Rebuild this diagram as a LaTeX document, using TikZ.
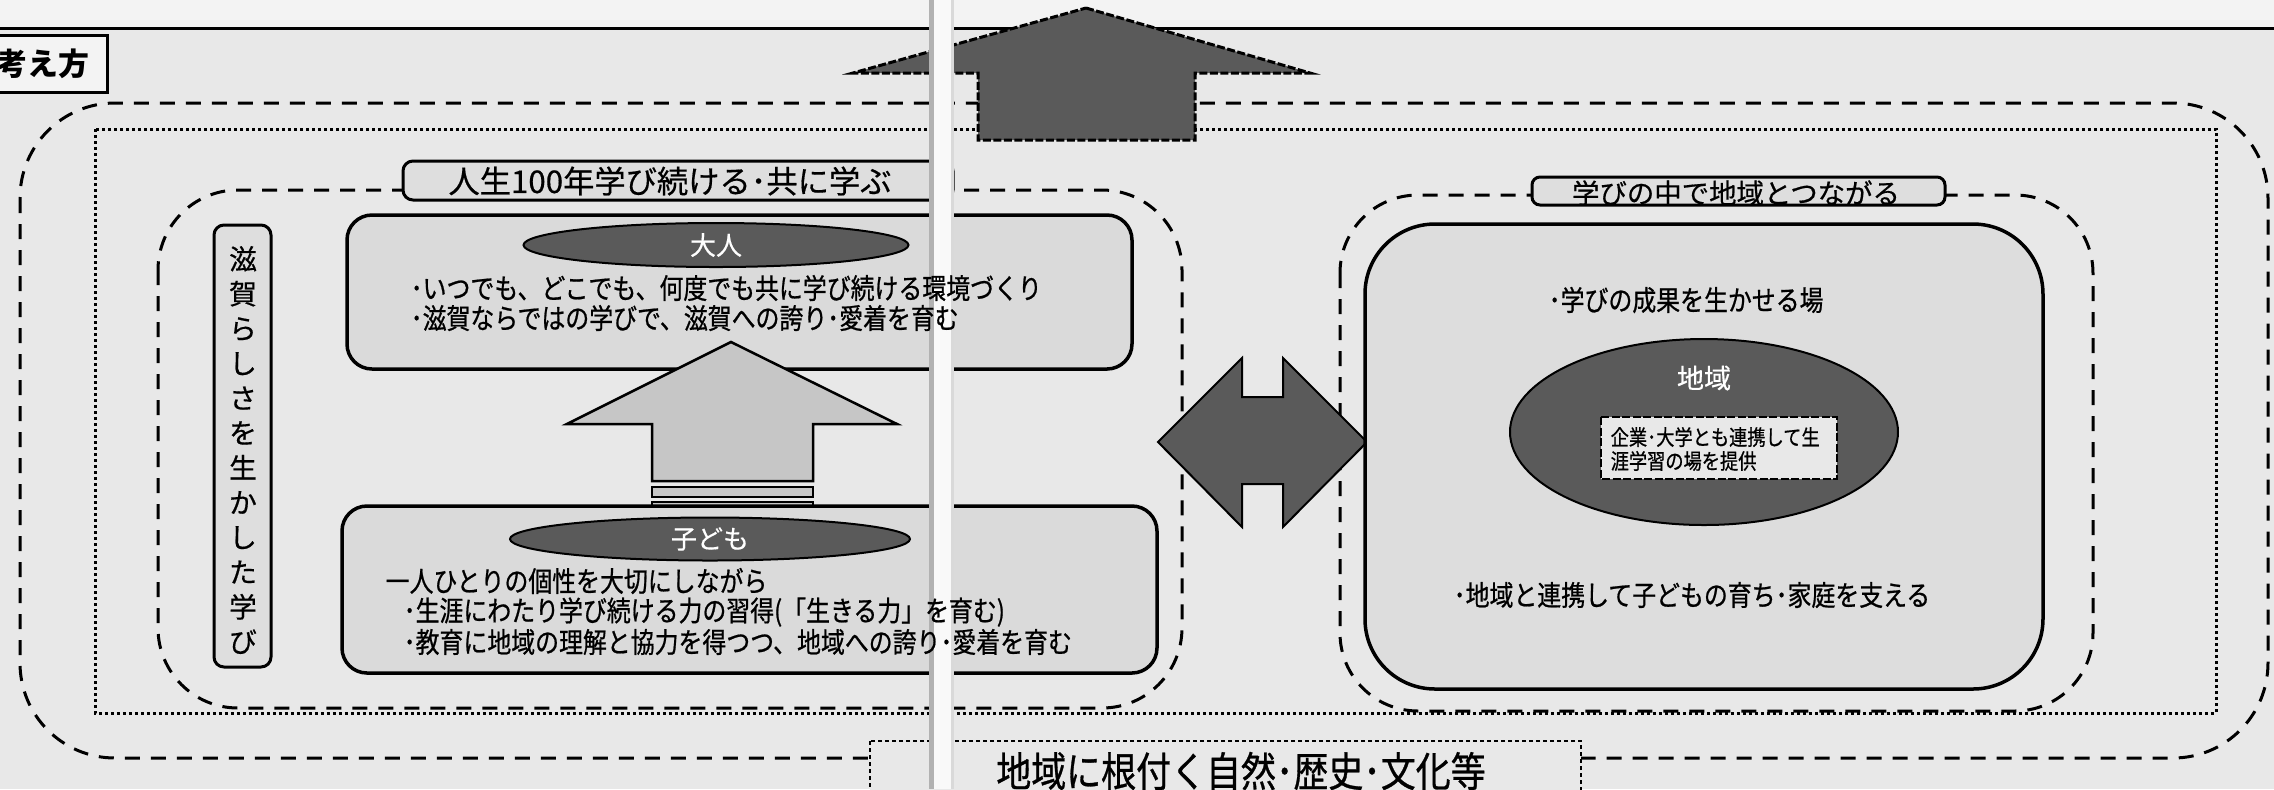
\documentclass[tikz,border=0pt]{standalone}
\usepackage{fontspec}
\newfontfamily\jpn[FakeStretch=0.85, FakeBold=0.7]{Noto Sans CJK JP}
\newfontfamily\jpw[FakeBold=0.5]{Noto Sans CJK JP}
\newfontfamily\jpt{Noto Sans CJK JP}
\usetikzlibrary{shapes.geometric}
\newcommand{\myfs}[2]{\fontsize{#1}{#2}\selectfont}
\definecolor{bgc}{HTML}{E8E8E8}
\definecolor{topc}{HTML}{F3F3F3}
\definecolor{boxc}{HTML}{DADADA}
\definecolor{labc}{HTML}{DEDEDE}
\definecolor{darkc}{HTML}{5A5A5A}
\definecolor{arrc}{HTML}{C6C6C6}
\definecolor{foldc}{HTML}{F9F9F9}
\tikzset{
  bigdash/.style={line width=0.3mm, dash pattern=on 1.5mm off 1.1mm},
  dotline/.style={line width=0.3mm, dash pattern=on 0.3mm off 0.3mm},
  finedash/.style={line width=0.3mm, dash pattern=on 0.8mm off 0.25mm},
  thindash/.style={line width=0.15mm, dash pattern=on 0.4mm off 0.3mm},
  solidbox/.style={draw=black, line width=0.35mm, fill=boxc},
  labelbox/.style={draw=black, line width=0.3mm, fill=labc, rounded corners=1mm},
  bodytxt/.style={inner sep=0pt, anchor=west, font=\jpn\myfs{8.0pt}{9pt}},
  ovaltxt/.style={ellipse, draw=black, line width=0.2mm, fill=darkc, inner sep=0pt, text=white, font=\jpw\myfs{7.4pt}{8pt}},
}
\begin{document}
\begin{tikzpicture}[x=0.1mm,y=-0.1mm]
\useasboundingbox (0,0) rectangle (2274,789);
\clip (0,0) rectangle (2274,789);
% background
\fill[bgc] (0,0) rectangle (2274,789);
\fill[topc] (0,0) rectangle (2274,28);
\draw[line width=0.3mm] (0,28) -- (2274,28);
% title box
\draw[line width=0.3mm, fill=topc] (-5,35) rectangle (107,92);
\node[inner sep=0pt, font=\jpt\bfseries\myfs{8.8pt}{10pt}] (title) at (43,64) {考え方};
% outer dashed frame and dotted frame
\draw[bigdash, rounded corners=9.5mm] (20,103) rectangle (2268,758);
\draw[dotline] (95,129) rectangle (2216,713);
% section frames
\draw[bigdash, rounded corners=8mm] (158,190) rectangle (1182,708);
\draw[bigdash, rounded corners=7.8mm] (1340,195) rectangle (2093,711);
% section labels
\draw[labelbox] (403,161) rectangle (953,200);
\draw[labelbox, rounded corners=0.8mm] (1532,177) rectangle (1945,205);
\node[inner sep=0pt, font=\jpw\myfs{7.8pt}{9pt}] (lab2) at (1736,193) {学びの中で地域とつながる};
% vertical box
\draw[labelbox] (214,225) rectangle (271,667);
\node[inner sep=0pt, align=center, font=\jpw\myfs{7.9pt}{9.9pt}] (vt) at (243,450) {滋\\賀\\ら\\し\\さ\\を\\生\\か\\し\\た\\学\\び};
% adult box
\draw[solidbox, rounded corners=2.5mm] (347,215) rectangle (1132,369);
\node[ovaltxt, minimum width=38.5mm, minimum height=4.4mm] (adult) at (716,245) {大人};
% up arrow
\draw[line width=0.25mm, fill=arrc] (731,342) -- (897,424) -- (813,424) -- (813,481) -- (652,481) -- (652,424) -- (567,424) -- cycle;
\draw[line width=0.25mm, fill=arrc] (652,487) rectangle (813,497);
\draw[line width=0.25mm, fill=arrc] (652,502) rectangle (813,508);
% child box
\draw[solidbox, rounded corners=2.5mm] (342,506) rectangle (1157,673);
\node[ovaltxt, minimum width=40mm, minimum height=4.3mm] (child) at (710,539) {子ども};
% double arrow
\draw[line width=0.2mm, fill=darkc] (1158,442) -- (1242,358) -- (1242,397) -- (1283,397) -- (1283,358) -- (1367,442) -- (1283,527) -- (1283,484) -- (1242,484) -- (1242,527) -- cycle;
% top big arrow
\draw[finedash, fill=darkc] (1086,8) -- (1310,73) -- (1195,73) -- (1195,140) -- (978,140) -- (978,73) -- (853,73) -- cycle;
% right box
\draw[solidbox, fill=boxc!80!bgc, rounded corners=7mm] (1365,224) rectangle (2043,689);
\node[ellipse, draw=black, line width=0.2mm, fill=darkc, minimum width=38.8mm, minimum height=18.6mm, inner sep=0pt] (region) at (1704,432) {};
\node[inner sep=0pt, text=white, font=\jpw\myfs{7.7pt}{8pt}] (regtxt) at (1704,378) {地域};
\draw[finedash, line width=0.25mm, fill=labc!70!white] (1601,417) rectangle (1837,479);
\node[inner sep=0pt, anchor=west, align=left, font=\jpn\myfs{6.1pt}{6.8pt}] (coop) at (1610,449) {企業･大学とも連携して生\\涯学習の場を提供};
% bottom box
\draw[thindash, fill=bgc] (870,741) rectangle (1581,820);
\node[inner sep=0pt, font=\jpn\myfs{11.7pt}{12pt}] (nature) at (1241,771) {地域に根付く自然･歴史･文化等};
% page fold
\fill[foldc] (929,0) rectangle (953,789);
\draw[line width=0.5mm, color=black!30] (931,0) -- (931,789);
\draw[line width=0.3mm, color=black!15] (952,0) -- (952,789);
% texts
\node[inner sep=0pt, font=\jpw\myfs{8.9pt}{10pt}] (lab1) at (670,181) {人生100年学び続ける･共に学ぶ};
\node[bodytxt] (a1) at (410,288) {･いつでも、どこでも、何度でも共に学び続ける環境づくり};
\node[bodytxt] (a2) at (410,318) {･滋賀ならではの学びで、滋賀への誇り･愛着を育む};
\node[bodytxt] (c1) at (385,581) {一人ひとりの個性を大切にしながら};
\node[bodytxt] (c2) at (403,612) {･生涯にわたり学び続ける力の習得(「生きる力」を育む)};
\node[bodytxt] (c3) at (403,642) {･教育に地域の理解と協力を得つつ、地域への誇り･愛着を育む};
\node[bodytxt] (r1) at (1548,300) {･学びの成果を生かせる場};
\node[bodytxt] (r2) at (1453,595) {･地域と連携して子どもの育ち･家庭を支える};
\end{tikzpicture}
\end{document}
